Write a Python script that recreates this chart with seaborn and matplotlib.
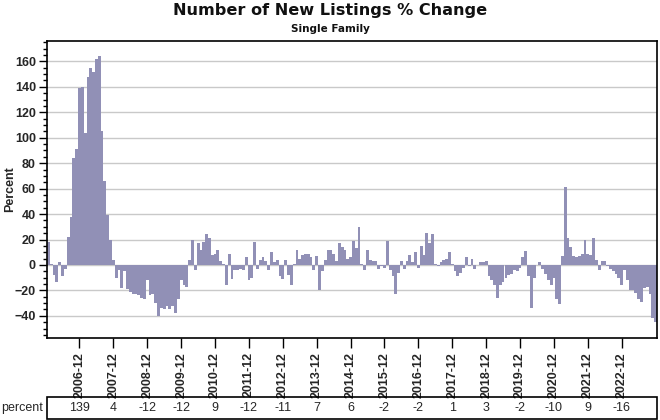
import numpy as np
import pandas as pd
import matplotlib
matplotlib.use("Agg")
import matplotlib.pyplot as plt
import matplotlib.transforms as mtransforms
from matplotlib.patches import Rectangle
from matplotlib.ticker import MultipleLocator, FixedLocator
import seaborn as sns

# ---- data (monthly % change) ----
years = list(range(2006, 2024))
pct_2006 = [18, 1, -8, -13, 2, -9, -3, 22, 38, 84, 91, 139]
pct_2007 = [140, 104, 148, 155, 152, 162, 164, 105, 66, 39, 20, 4]
pct_2008 = [-10, -4, -18, -5, -19, -21, -23, -23, -24, -26, -27, -12]
pct_2009 = [-24, -23, -30, -40, -34, -35, -32, -35, -32, -38, -27, -12]
pct_2010 = [-16, -17, 4, 20, -4, 17, 12, 18, 24, 21, 8, 9]
pct_2011 = [12, 3, 1, -16, 9, -11, -4, -4, -3, -4, 6, -12]
pct_2012 = [-10, 18, -3, 4, 6, 3, -4, 10, 2, 4, -9, -11]
pct_2013 = [4, -8, -16, 1, 12, 5, 8, 9, 9, 6, -4, 7]
pct_2014 = [-20, -5, 4, 12, 12, 9, 3, 17, 14, 12, 5, 6]
pct_2015 = [19, 13, 30, 1, -4, 12, 4, 3, 3, -3, -1, -2]
pct_2016 = [19, -4, -9, -23, -6, 3, -3, 3, 8, 2, 10, -2]
pct_2017 = [15, 8, 25, 17, 24, 1, -1, 2, 4, 5, 10, 1]
pct_2018 = [-5, -9, -6, -2, 6, -1, 5, -3, 0, 2, 2, 3]
pct_2019 = [-9, -12, -16, -26, -16, -13, -10, -8, -7, -4, -5, -2]
pct_2020 = [6, 11, -9, -34, -10, 0, 2, -3, -7, -12, -16, -10]
pct_2021 = [-27, -31, 7, 61, 21, 14, 7, 6, 7, 9, 20, 9]
pct_2022 = [8, 21, 4, -4, 3, 3, -1, -3, -5, -7, -10, -16]
pct_2023 = [-4, -12, -20, -20, -22, -27, -29, -18, -17, -23, -42, -45]

tick_labels = ["2006-12", "2007-12", "2008-12", "2009-12", "2010-12", "2011-12",
               "2012-12", "2013-12", "2014-12", "2015-12", "2016-12", "2017-12",
               "2018-12", "2019-12", "2020-12", "2021-12", "2022-12"]
table_values = [139, 4, -12, -12, 9, -12, -11, 7, 6, -2, -2, 1, 3, -2, -10, 9, -16]

values = (pct_2006 + pct_2007 + pct_2008 + pct_2009 + pct_2010 + pct_2011 +
          pct_2012 + pct_2013 + pct_2014 + pct_2015 + pct_2016 + pct_2017 +
          pct_2018 + pct_2019 + pct_2020 + pct_2021 + pct_2022 + pct_2023)
months = [f"{y}-{m:02d}" for y in years for m in range(1, 13)]
df = pd.DataFrame({"month": months, "pct": values})

# ---- figure ----
sns.set_theme(style="white")
plt.rcParams["font.family"] = ["Liberation Sans", "DejaVu Sans"]

W, H = 660, 420
fig = plt.figure(figsize=(W / 100, H / 100), dpi=100)
L, R, T, B = 47, 657, 41, 338
ax = fig.add_axes([L / W, 1 - B / H, (R - L) / W, (B - T) / H])

bar_color = "#9190b6"
sns.barplot(data=df, x="month", y="pct", color=bar_color, width=1.0,
            linewidth=0, saturation=1, ax=ax, errorbar=None)

ax.set_xlim(-0.5, len(values) - 0.5)
ax.set_ylim(-57.4, 176)

# y axis
ax.yaxis.set_major_locator(MultipleLocator(20))
ax.yaxis.set_minor_locator(MultipleLocator(5))
ax.yaxis.grid(True, which="major", color="#c9c9c9", linewidth=1.0)
ax.set_axisbelow(True)
ax.tick_params(axis="y", which="major", direction="out", length=6, width=1,
               color="black", labelsize=9, pad=2, left=True)
ax.tick_params(axis="y", which="minor", direction="out", length=3, width=1,
               color="black", left=True)
for lbl in ax.get_yticklabels():
    lbl.set_fontweight("bold")
ax.set_ylabel("Percent", fontsize=9, fontweight="bold")
ax.yaxis.set_label_coords((16 - L) / (R - L), 0.5)

# x axis: ticks at Decembers
dec_pos = [months.index(lbl) for lbl in tick_labels]
ax.xaxis.set_major_locator(FixedLocator(dec_pos))
ax.set_xticklabels(tick_labels, rotation=90, fontsize=9, fontweight="bold")
ax.tick_params(axis="x", which="major", direction="out", length=7, width=1,
               color="black", pad=3, bottom=True)
ax.set_xlabel("")

for s in ax.spines.values():
    s.set_visible(True)
    s.set_color("black")
    s.set_linewidth(1.2)

# titles
fig.text(0.5, 1 - 11 / H, "Number of New Listings % Change", ha="center",
         va="center", fontsize=11.6, fontweight="bold", family="DejaVu Sans",
         color="#111111")
fig.text(0.5, 1 - 29.5 / H, "Single Family", ha="center", va="center",
         fontsize=7.5, fontweight="bold", family="DejaVu Sans", color="#111111")

# data table row
tb_top, tb_bot = 397, 419
fig.patches.append(Rectangle((L / W, 1 - tb_bot / H), (R - L) / W,
                             (tb_bot - tb_top) / H, transform=fig.transFigure,
                             fill=False, edgecolor="black", linewidth=1.2))
fig.text(1 / W, 1 - 408 / H, "percent", ha="left", va="center", fontsize=9)
trans = mtransforms.blended_transform_factory(ax.transData, fig.transFigure)
for p, v in zip(dec_pos, table_values):
    fig.text(p, 1 - 408 / H, str(v), ha="center", va="center", fontsize=9,
             transform=trans)

fig.savefig("out.png", dpi=100)
